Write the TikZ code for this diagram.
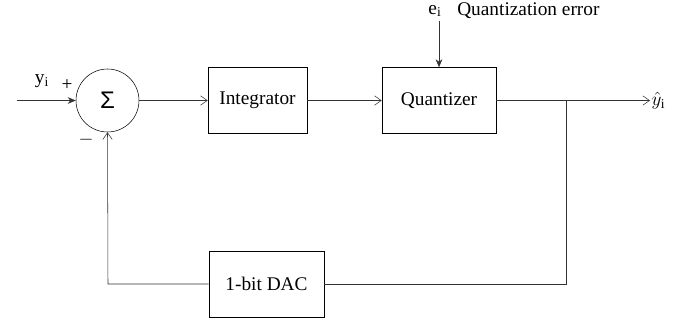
\documentclass[tikz,border=0pt]{standalone}
\usepackage{fontspec}
\setmainfont{Liberation Serif}
\newfontfamily\sigmafont{Liberation Sans}
\usepackage{amsmath}
\usetikzlibrary{arrows.meta}
\usetikzlibrary{positioning}

\tikzset{
  block/.style={draw, rectangle, minimum height=49.5pt, inner sep=0pt},
  sumnode/.style={draw, circle, minimum size=47.25pt, inner sep=0pt},
  wire/.style={draw, thin, black!80},
  open/.style={-{Straight Barb[length=5pt,width=7pt]}},
  filled/.style={-{Stealth[length=6pt,width=5pt]}},
}

\begin{document}
\begin{tikzpicture}[x=0.75pt, y=-0.75pt, font=\fontsize{14.5}{17}\selectfont]
\useasboundingbox (0,0) rectangle (694,326);
% blocks
\node[sumnode] (sum) at (107.5,100.5) {\sigmafont\fontsize{18}{18}\selectfont Σ};
\node[block, minimum width=74.25pt] (integ) at (257.5,100.5) {Integrator};
\node[block, minimum width=85.5pt] (quant) at (439,100.5) {Quantizer};
\node[block, minimum width=86.25pt] (dac) at (266.5,284) {1-bit DAC};
% free ends
\coordinate (in) at (17,100.5);
\coordinate (out) at (650,100.5);
\coordinate (branch) at (566,100.5);
\coordinate (err) at (439,21);
\coordinate (corner) at (108,284);
% signal path
\draw[wire,filled] (in) -- (sum.west);
\draw[wire,open] (sum.east) -- (integ.west);
\draw[wire,open] (integ.east) -- (quant.west);
\draw[wire,open] (quant.east) -- (out);
\draw[wire,filled] (err) -- (quant.north);
% feedback
\draw[wire] (branch) |- (dac.east);
\draw[wire,open] (dac.west) -- (corner) -- (sum.south);
% labels
\node (ylab) at (42,81) {y\textsubscript{i}};
\node (plus) at (67,85) {+};
\node (minus) at (86,140) {$-$};
\node[right, inner sep=1pt] (yhat) at (out) {$\hat{y}_{\mathrm{i}}$};
\node (elab) at (435,11) {e\textsubscript{i}};
\node[right, inner sep=0pt] (qerr) at (457,11) {Quantization error};
\end{tikzpicture}
\end{document}
